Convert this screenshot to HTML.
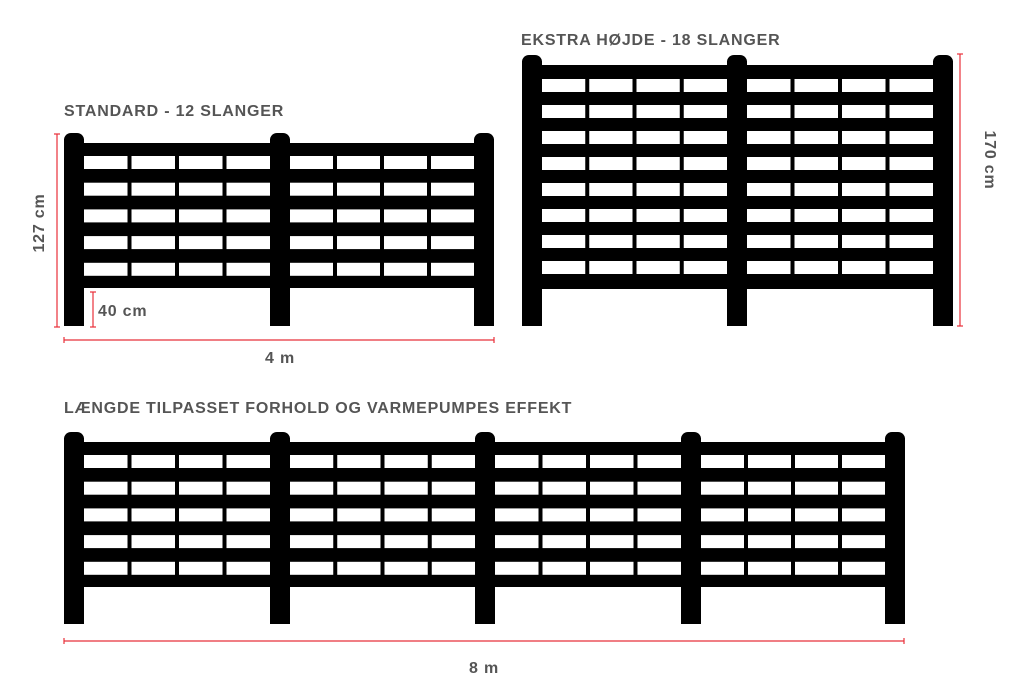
<!DOCTYPE html>
<html><head><meta charset="utf-8"><style>
html,body{margin:0;padding:0;background:#fff;width:1024px;height:698px;overflow:hidden}
svg{display:block}
text{font-family:"Liberation Sans",sans-serif;font-weight:bold;fill:#555;letter-spacing:0.8px}
</style></head><body>
<svg id="s" width="1024" height="698" viewBox="0 0 1024 698" xmlns="http://www.w3.org/2000/svg">
<text x="64" y="116" font-size="16">STANDARD - 12 SLANGER</text>
<text x="521" y="45" font-size="16">EKSTRA HØJDE - 18 SLANGER</text>
<text x="64" y="413" font-size="16">LÆNGDE TILPASSET FORHOLD OG VARMEPUMPES EFFEKT</text>
<text x="44" y="223" font-size="16" text-anchor="middle" transform="rotate(-90 44 223)">127 cm</text>
<text x="98" y="316" font-size="16">40 cm</text>
<text x="280" y="363" font-size="16" text-anchor="middle">4 m</text>
<text x="985" y="160" font-size="16" text-anchor="middle" transform="rotate(90 985 160)">170 cm</text>
<text x="484" y="673" font-size="16" text-anchor="middle">8 m</text>
<g stroke="#e8303a" stroke-width="1.2">
<line x1="57" y1="134" x2="57" y2="327"/><line x1="54" y1="134" x2="60" y2="134"/><line x1="54" y1="327" x2="60" y2="327"/>
<line x1="93" y1="292" x2="93" y2="327"/><line x1="90" y1="292" x2="96" y2="292"/><line x1="90" y1="327" x2="96" y2="327"/>
<line x1="64" y1="340" x2="494" y2="340"/><line x1="64" y1="337" x2="64" y2="343"/><line x1="494" y1="337" x2="494" y2="343"/>
<line x1="960" y1="54" x2="960" y2="326"/><line x1="957" y1="54" x2="963" y2="54"/><line x1="957" y1="326" x2="963" y2="326"/>
<line x1="64" y1="641" x2="904" y2="641"/><line x1="64" y1="638" x2="64" y2="644"/><line x1="904" y1="638" x2="904" y2="644"/>
</g>
<g id="f"></g>
</svg>
<script>
var g=document.getElementById('f'),h='';
function R(x,y,w,hh,c,rx){h+='<rect x="'+x+'" y="'+y+'" width="'+w+'" height="'+hh+'" fill="'+c+'"'+(rx?' rx="'+rx+'"':'')+'/>';}
var rows0;
function fence(posts,top,railTop,rows,rowH,rowStep,railBot,bot,pw){
  var l=posts[0],r=posts[posts.length-1]+pw;
  R(l,railTop,r-l,railBot-railTop,'#000');
  for(var i=0;i<posts.length-1;i++){
    var a=posts[i]+pw,b=posts[i+1],cw=(b-a-12)/4;
    for(var k=0;k<rows;k++)for(var j=0;j<4;j++)
      R(a+j*(cw+4),rows0+k*rowStep,cw,rowH,'#fff');
  }
  posts.forEach(function(p){R(p,top+6,pw,bot-top-6,'#000',0);R(p,top,pw,14,'#000',7);});
}
rows0=156;fence([64,270,474],133,143,5,13,26.7,288,326,20);
rows0=79;fence([522,727,933],55,65,8,13,26,289,326,20);
rows0=455;fence([64,270,475,681,885],432,442,5,13,26.7,587,624,20);
g.innerHTML=h;
</script>
</body></html>
